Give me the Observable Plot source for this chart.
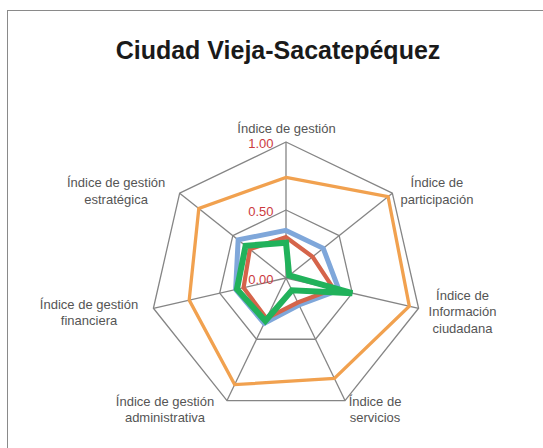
<!DOCTYPE html>
<html>
<head>
<meta charset="utf-8">
<script src="https://cdn.jsdelivr.net/npm/d3@7"></script>
<script src="https://cdn.jsdelivr.net/npm/@observablehq/plot@0.6"></script>
<style>
  html, body { margin: 0; padding: 0; background: #fff; }
  #wrap { position: relative; width: 543px; height: 448px; overflow: hidden; font-family: "Liberation Sans", Arial, sans-serif; }
  #frame { position: absolute; left: 7px; top: 10px; width: 700px; height: 700px; border: 1.5px solid #8a8a8a; box-sizing: border-box; }
  #title { position: absolute; left: 0; top: 33px; width: 556px; text-align: center; font-size: 25px; font-weight: bold; color: #1a1a1a; line-height: 34px; }
  #chart { position: absolute; left: 0; top: 0; }
</style>
</head>
<body>
<div id="wrap">
  <div id="frame"></div>
  <div id="chart"></div>
  <div id="title">Ciudad Vieja-Sacatepéquez</div>
</div>
<script>
// ---- data ----
const axes = [
  "Índice de gestión",
  "Índice de\nparticipación",
  "Índice de\nInformación\nciudadana",
  "Índice de\nservicios",
  "Índice de gestión\nadministrativa",
  "Índice de gestión\nfinanciera",
  "Índice de gestión\nestratégica"
];
const seriesNames = ["Serie 1", "Serie 2", "Serie 3", "Serie 4"];
const serie1 = [0.74, 0.96, 0.93, 0.82, 0.87, 0.73, 0.82]; // naranja
const serie2 = [0.35, 0.35, 0.40, 0.22, 0.37, 0.38, 0.45]; // azul
const serie3 = [0.30, 0.25, 0.36, 0.20, 0.33, 0.32, 0.34]; // rojo
const serie4 = [0.26, 0.03, 0.50, 0.10, 0.35, 0.37, 0.38]; // verde
const tickValues = [0, 0.5, 1];
const gridLevels = [0.5, 1];

// ---- layout / style ----
const W = 543, H = 448, CX = 285.5, CY = 277.5, R = 136;
const colors = ["#f1a14f", "#7fa7da", "#d5644a", "#21b25b"];
const widths = [3.3, 5, 4.2, 6];
const labelNudge = [[0.5, -14.5], [44.6, -2.8], [43.9, 2.7], [30, 8], [-62, 8], [-64.4, 3.7], [-63.6, -2.8]];

const n = axes.length;
const ang = i => (i * 2 * Math.PI) / n;
const px = (i, v) => v * Math.sin(ang(i));
const py = (i, v) => v * Math.cos(ang(i));

const allSeries = [serie1, serie2, serie3, serie4];
const points = [];
allSeries.forEach((vals, s) => vals.forEach((v, i) => points.push({s, i, v})));

const grid = [];
gridLevels.forEach(l => axes.forEach((a, i) => grid.push({l, i})));

const xDomain = [-CX / R, (W - CX) / R];
const yDomain = [-(H - CY) / R, CY / R];

const marks = [
  Plot.line(grid, {x: d => px(d.i, d.l), y: d => py(d.i, d.l), z: "l", curve: "linear-closed", stroke: "#858585", strokeWidth: 1.3}),
  Plot.link(axes.map((a, i) => i), {x1: 0, y1: 0, x2: i => px(i, 1), y2: i => py(i, 1), stroke: "#858585", strokeWidth: 1.3}),
  ...allSeries.map((vals, s) =>
    Plot.line(points.filter(d => d.s === s), {
      x: d => px(d.i, d.v), y: d => py(d.i, d.v),
      curve: "linear-closed", stroke: colors[s], strokeWidth: widths[s], strokeLinejoin: "miter", strokeMiterlimit: 4
    })
  ),
  Plot.text(tickValues, {x: 0, y: d => d, text: d => d.toFixed(2), textAnchor: "end", dx: -12.5, dy: 1.5, fill: "#cc3a3e", fontSize: 13}),
  ...axes.map((a, i) =>
    Plot.text([i], {
      x: i => px(i, 1), y: i => py(i, 1), text: i => axes[i],
      textAnchor: "middle", lineAnchor: "middle", lineHeight: 1.27,
      dx: labelNudge[i][0], dy: labelNudge[i][1], fill: "#555", fontSize: 13
    })
  )
];

const chart = Plot.plot({
  width: W, height: H, margin: 0,
  x: {domain: xDomain, range: [0, W], axis: null},
  y: {domain: yDomain, range: [H, 0], axis: null},
  style: {fontFamily: "'Liberation Sans', Arial, sans-serif", background: "transparent", overflow: "visible"},
  marks
});
document.getElementById("chart").appendChild(chart);
</script>
</body>
</html>
